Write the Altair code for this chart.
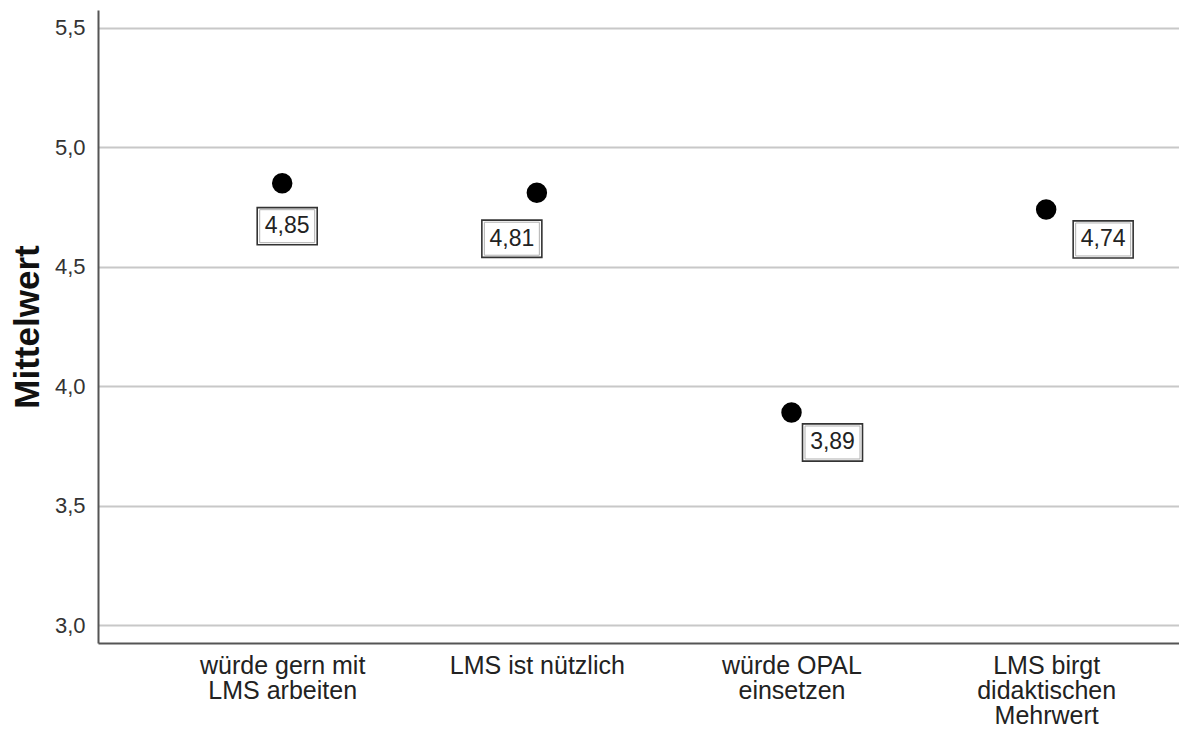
import altair as alt
import pandas as pd

categories = ["würde gern mit|LMS arbeiten", "LMS ist nützlich", "würde OPAL|einsetzen", "LMS birgt|didaktischen|Mehrwert"]
means = [4.85, 4.81, 3.89, 4.74]
y_ticks = [3.0, 3.5, 4.0, 4.5, 5.0, 5.5]

df = pd.DataFrame({"cat": categories, "mean": means})

# label offsets (px) per category: style only
offsets = {
    categories[0]: (5, 43),
    categories[1]: (-25, 46),
    categories[2]: (41, 30),
    categories[3]: (57, 30),
}

FONT = "Liberation Sans"

x_enc = alt.X("cat:N", sort=categories,
              scale=alt.Scale(type="point", padding=0.6225, align=0.581),
              axis=alt.Axis(title=None, labelExpr="split(datum.label, '|')", labelAngle=0,
                            labelFontSize=25, labelFont=FONT, labelColor="#222",
                            labelPadding=10, ticks=False, domainColor="#555", domainWidth=2,
                            grid=False, labelLineHeight=25))
y_enc = alt.Y("mean:Q", scale=alt.Scale(domain=[2.925, 5.575], nice=False, zero=False),
              axis=alt.Axis(title="Mittelwert", values=y_ticks,
                            labelExpr="replace(format(datum.value, '.1f'), '.', ',')",
                            labelFontSize=22, labelFont=FONT, labelColor="#333",
                            labelPadding=13, ticks=False, domainColor="#555", domainWidth=2,
                            gridColor="#c8c8c8", gridWidth=2,
                            titleFont=FONT, titleFontSize=35, titleFontWeight="bold",
                            titleColor="#111", titlePadding=9))

base = alt.Chart(df)

points = base.mark_point(filled=True, color="black", size=420, opacity=1).encode(x=x_enc, y=y_enc)

layers = [points]
box_path = "M-1,-0.62H1V0.62H-1Z"
inner_path = "M-1,-0.6H1V0.6H-1Z"
for cat, (dx, dy) in offsets.items():
    sub = base.transform_filter(alt.datum.cat == cat)
    outer = sub.mark_point(shape=box_path, size=3600, filled=True, fill="white",
                           stroke="#333", strokeWidth=1.6, opacity=1,
                           xOffset=dx, yOffset=dy).encode(x=x_enc, y=y_enc)
    inner = sub.mark_point(shape=inner_path, size=55 * 55, filled=False,
                           stroke="#b0b0b0", strokeWidth=1, opacity=1,
                           xOffset=dx, yOffset=dy).encode(x=x_enc, y=y_enc)
    txt = sub.transform_calculate(
        lab="replace(format(datum.mean, '.2f'), '.', ',')"
    ).mark_text(font=FONT, fontSize=23, color="#222", dx=dx, dy=dy,
                align="center", baseline="middle").encode(x=x_enc, y=y_enc, text="lab:N")
    layers += [outer, inner, txt]

chart = alt.layer(*layers).properties(
    width=1081, height=633,
    background="white",
    padding={"left": 2, "top": 2, "right": 0, "bottom": 0},
).configure_view(stroke=None)

chart.save("out.html", embed_options={"renderer": "svg", "actions": False})
